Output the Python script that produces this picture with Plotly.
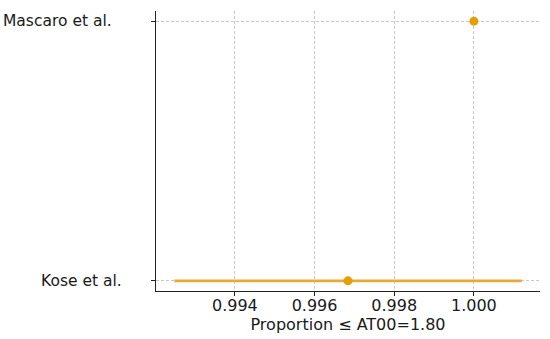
import plotly.graph_objects as go

studies = ["Kose et al.", "Mascaro et al."]
proportions = [0.99684, 1.0]
ci_half = [0.00436, 0.0]
x_ticks = [0.994, 0.996, 0.998, 1.000]

orange = "#E69F00"
font = "DejaVu Sans, sans-serif"

fig = go.Figure()
fig.add_trace(go.Scatter(
    x=proportions,
    y=[0, 1],
    mode="markers",
    marker=dict(color=orange, size=9),
    error_x=dict(type="data", array=ci_half, color="#E8A935", thickness=2.6, width=0),
    showlegend=False,
))

fig.update_layout(
    width=550, height=339,
    margin=dict(l=156, r=10, t=11, b=48),
    paper_bgcolor="white", plot_bgcolor="white",
    font=dict(family=font, size=16, color="#1a1a1a"),
    xaxis=dict(
        range=[0.99202, 1.00166],
        tickvals=x_ticks,
        ticktext=[f"{v:.3f}" for v in x_ticks],
        showgrid=True, gridcolor="#c8c8c8", griddash="3px,2px", gridwidth=1,
        showline=True, linecolor="#222", linewidth=1.3,
        ticks="outside", ticklen=4, tickcolor="#222",
        ticklabelstandoff=-4,
        zeroline=False,
        automargin=False,
        title=dict(text="Proportion ≤ AT00=1.80", font=dict(size=16), standoff=2),
    ),
    yaxis=dict(
        range=[-0.039, 1.039],
        tickvals=[0, 1],
        showticklabels=False,
        showgrid=True, gridcolor="#c8c8c8", griddash="3px,2px", gridwidth=1,
        showline=True, linecolor="#222", linewidth=1.3,
        ticks="outside", ticklen=4, tickcolor="#222",
        zeroline=False,
        automargin=False,
    ),
)

# study labels sit left of the axis, each at its own offset as in the source
label_right = {"Kose et al.": 124, "Mascaro et al.": 114}
for i, name in enumerate(studies):
    fig.add_annotation(
        x=(label_right[name] - 156) / (550 - 156 - 10),
        xref="paper", y=i, yref="y",
        text=name, showarrow=False, xanchor="right", yanchor="middle",
        font=dict(size=15.5, color="#1a1a1a"),
    )

fig.write_html("out.html", config={"displayModeBar": False},
               post_script="document.body.style.margin='0';")
